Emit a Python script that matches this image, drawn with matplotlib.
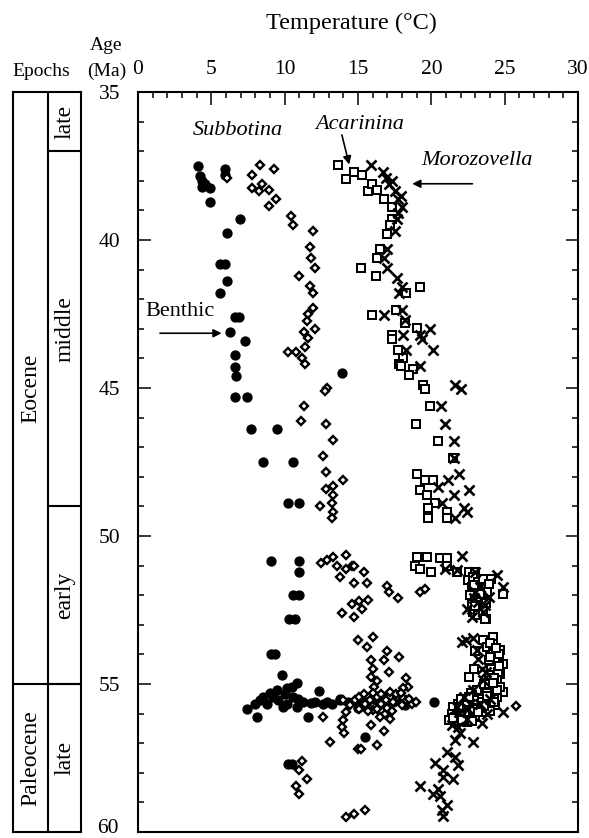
import matplotlib
matplotlib.use("Agg")
import matplotlib.pyplot as plt

plt.rcParams['font.family'] = ['Liberation Serif', 'DejaVu Serif']

# ---------------- data (temperature degC, age Ma) ----------------
benthic_T = [4.1, 4.2, 4.35, 4.6, 4.35, 4.9, 4.9, 5.9, 5.9, 6.95, 6.05, 5.6, 5.95, 6.05, 5.6,
             6.6, 6.9, 6.3, 7.3, 6.6, 6.6, 6.7, 6.6, 7.4, 7.7, 9.5, 8.5, 10.6, 10.2, 11.0, 13.9,
             9.1, 11.0, 11.0, 10.6, 11.0, 10.3, 10.7, 9.1, 9.35, 9.8, 10.82,
             7.41, 8.09, 7.98, 8.55, 9.0, 8.77, 9.45, 9.57, 10.14, 10.14, 10.59, 10.48, 10.82,
             11.27, 11.61, 12.07, 12.34, 12.64, 13.2, 13.77, 9.9, 15.0, 15.0,
             13.8, 14.3, 15.6, 16.2, 17.0, 17.8, 20.2, 15.5, 10.2, 10.5,
             8.3, 9.2, 10.0, 10.9, 11.8, 12.9, 16.6, 17.4, 18.2]
benthic_age = [37.5, 37.85, 38.0, 38.1, 38.2, 38.25, 38.7, 37.6, 37.8, 39.3, 39.75, 40.8, 40.8, 41.4, 41.8,
               42.6, 42.6, 43.1, 43.4, 43.9, 44.3, 44.6, 45.3, 45.3, 46.4, 46.4, 47.5, 47.5, 48.9, 48.9, 44.5,
               50.85, 50.85, 51.2, 52.0, 52.0, 52.8, 52.8, 54.0, 54.0, 54.7, 54.96,
               55.83, 56.11, 55.66, 55.44, 55.32, 55.66, 55.19, 55.55, 55.15, 55.66, 55.44, 55.1, 55.77,
               55.6, 56.11, 55.6, 55.23, 55.66, 55.66, 55.52, 55.77, 55.5, 55.8,
               55.55, 55.6, 55.6, 55.55, 55.6, 55.55, 55.6, 56.8, 57.7, 57.7,
               55.55, 55.45, 55.35, 55.5, 55.65, 55.6, 55.65, 55.6, 55.7]

subbotina_T = [8.3, 9.3, 7.8, 6.09, 8.45, 7.8, 8.25, 8.9, 9.4, 8.9, 10.4, 10.6, 11.9, 11.7, 11.8, 12.1,
               11.0, 11.7, 11.9, 11.9, 11.6, 11.5, 12.1, 11.3, 11.6, 11.4, 10.2, 10.8, 11.2, 11.4,
               12.9, 12.75, 11.3, 11.1, 12.8, 13.3, 12.6, 12.8, 12.8, 13.3, 13.3, 13.2, 12.4, 13.3, 13.2, 14.0,
               12.5, 12.9, 13.3, 13.6, 14.2, 14.2, 14.6, 13.8, 14.7, 13.9, 14.6, 14.7, 15.0,
               14.7, 15.4, 15.6, 17.0, 17.1, 17.7, 15.1, 15.7, 15.3, 19.2, 19.6,
               15.6, 16.0, 17.0, 16.8, 17.8, 15.9, 16.0, 17.1, 15.9, 16.3, 18.3, 16.1, 16.8, 18.4,
               14.8, 15.1, 15.5, 15.8, 16.3, 16.6, 16.95, 17.2, 17.4, 17.75, 17.98, 18.3, 18.66, 18.95,
               17.2, 18.1, 16.84, 16.5, 17.2, 16.05, 15.1, 14.45, 14.0,
               12.6, 14.0, 14.2, 13.9, 14.05, 13.1, 15.0, 15.9, 16.8, 15.2, 16.3, 25.8,
               11.2, 11.0, 11.5, 10.8, 11.0, 14.2, 14.7, 15.5,
               15.4, 16.0, 16.6, 17.0, 17.6, 18.0, 18.5, 16.3, 17.3, 17.9, 15.7, 16.9]
subbotina_age = [37.45, 37.6, 37.8, 37.92, 38.1, 38.25, 38.35, 38.3, 38.6, 38.85, 39.2, 39.5, 39.7, 40.25, 40.6, 40.95,
                 41.2, 41.55, 41.8, 42.3, 42.5, 42.75, 43.0, 43.1, 43.3, 43.6, 43.8, 43.8, 44.0, 44.2,
                 45.0, 45.1, 45.6, 46.1, 46.2, 46.75, 47.3, 47.85, 48.4, 48.3, 48.6, 48.9, 49.0, 49.2, 49.4, 48.1,
                 50.9, 50.8, 50.7, 51.0, 50.65, 51.1, 51.0, 51.4, 51.6, 52.6, 52.3, 52.75, 53.5,
                 51.0, 51.2, 51.6, 51.7, 51.9, 52.1, 52.2, 52.15, 52.45, 51.9, 51.8,
                 53.75, 53.4, 53.9, 54.2, 54.1, 54.2, 54.5, 54.6, 54.75, 54.9, 54.8, 55.1, 55.45, 55.1,
                 55.55, 55.44, 55.66, 55.55, 55.44, 55.66, 55.77, 55.44, 55.6, 55.44, 55.72, 55.55, 55.66, 55.6,
                 55.27, 55.15, 56.0, 56.11, 56.17, 55.89, 55.83, 55.72, 55.55,
                 56.1, 56.2, 55.95, 56.45, 56.65, 56.95, 57.2, 56.4, 56.6, 57.2, 57.05, 55.75,
                 57.6, 57.9, 58.2, 58.45, 58.7, 59.5, 59.4, 59.25,
                 55.35, 55.3, 55.35, 55.8, 55.35, 55.45, 55.5, 55.85, 55.9, 55.3, 55.9, 55.55]

acarinina_T = [13.66, 14.2, 14.7, 15.3, 15.7, 15.95, 16.3, 16.8, 17.3, 17.3, 17.2, 17.0, 16.5, 16.3, 15.2,
               16.2, 19.2, 18.3, 15.95, 17.6, 18.2, 19.0, 17.3, 17.3, 17.7, 18.1, 17.8, 18.75,
               17.9, 18.5, 19.4, 19.6, 19.9, 18.95, 20.45, 21.5, 19.0, 19.6, 20.1, 19.2, 19.7, 20.25,
               19.8, 19.8, 21.1, 21.1,
               19.0, 18.9, 19.7, 19.2, 20.0, 20.6, 21.1, 21.1, 21.75, 22.6, 24.1, 24.9, 23.7, 22.98,
               22.5, 22.86, 23.2, 23.55, 23.9, 22.75, 23.1, 23.4, 23.77, 22.64, 22.98, 23.32, 23.66,
               22.75, 23.1, 23.43, 22.86, 23.2, 23.66,
               24.2, 23.55, 24.68, 24.8, 24.68, 22.6, 24.9, 23.77, 24.2, 23.9, 24.45, 24.1, 24.57,
               23.9, 24.45, 24.1, 23.55, 24.68, 23.1, 23.77, 24.45, 22.75, 23.32, 22.3, 21.84, 21.5,
               21.95, 22.52, 23.1, 23.77, 24.34, 21.39, 21.84, 22.41, 22.86, 23.43, 21.6, 22.41,
               24.2, 24.9, 23.0, 22.9, 23.6, 24.3, 21.2, 22.0, 22.9,
               24.0, 24.6, 24.3, 23.9, 24.5, 23.4, 22.0, 22.7, 23.5, 24.0, 21.6, 22.2, 23.0, 23.8,
               22.9, 23.3, 23.7, 23.0, 23.5, 24.4, 24.0, 24.6, 24.2, 23.8, 24.3, 22.4, 22.9, 23.6,
               21.9, 22.6, 23.2, 21.5, 22.1, 22.8]
acarinina_age = [37.45, 37.95, 37.7, 37.8, 38.35, 38.1, 38.3, 38.6, 38.9, 39.3, 39.5, 39.8, 40.3, 40.6, 40.95,
                 41.2, 41.6, 41.8, 42.55, 42.35, 42.8, 42.97, 43.2, 43.35, 43.7, 44.0, 44.2, 44.35,
                 44.25, 44.55, 44.9, 45.05, 45.6, 46.2, 46.8, 47.35, 47.9, 48.1, 48.1, 48.45, 48.6, 48.9,
                 49.05, 49.4, 49.2, 49.4,
                 50.7, 51.0, 50.7, 51.1, 51.2, 50.75, 50.75, 51.0, 51.2, 51.2, 51.45, 51.95, 52.8, 51.22,
                 51.5, 51.39, 51.56, 51.44, 51.61, 51.73, 51.84, 51.78, 51.9, 52.0, 52.12, 52.06, 52.18,
                 52.29, 52.4, 52.46, 52.57, 52.68, 52.79,
                 53.41, 53.52, 53.86, 54.31, 54.65, 54.78, 55.27, 53.75, 53.97, 54.2, 54.26, 54.48, 54.59,
                 54.7, 54.87, 55.04, 55.1, 55.1, 55.21, 55.32, 55.44, 55.38, 55.49, 55.55, 55.66, 55.77,
                 55.89, 55.77, 55.72, 55.66, 55.72, 56.0, 56.11, 56.05, 56.0, 55.94, 56.28, 56.28,
                 53.64, 54.31, 53.9, 54.5, 55.0, 55.5, 56.2, 55.95, 55.85,
                 53.6, 54.0, 54.8, 55.0, 55.2, 55.6, 55.5, 55.3, 55.8, 55.9, 56.1, 56.2, 56.1, 55.5,
                 51.65, 51.95, 52.25, 52.35, 52.55, 53.8, 54.1, 54.4, 54.95, 55.4, 55.6, 55.6, 55.55, 55.75,
                 55.8, 55.45, 55.95, 56.15, 56.2, 56.25]

morozovella_T = [15.9, 16.7, 16.9, 17.1, 17.5, 17.75, 18.0, 17.75, 17.65, 17.5, 17.0, 16.8, 17.0, 17.65,
                 18.0, 17.8, 16.8, 18.0, 18.2, 19.2, 19.9, 19.35, 20.1, 18.1, 18.3, 19.2,
                 21.6, 22.0, 20.65, 20.9, 21.55, 21.55, 21.9, 21.15, 20.45, 22.6, 21.55, 20.7, 22.2, 22.4, 21.6,
                 22.07, 20.93, 21.73, 22.98,
                 22.4, 23.66, 24.9, 23.3, 22.98, 23.55, 22.75, 23.2, 23.9, 24.45,
                 22.07, 22.86, 23.1, 23.2, 22.36, 23.43, 23.55, 22.86, 22.2, 21.73, 22.64, 23.3, 24.0,
                 24.9, 23.43, 22.86, 21.95, 21.39, 21.84, 21.61, 21.05, 20.25, 21.61, 21.84, 20.82,
                 20.82, 21.5, 19.23, 20.14, 20.48, 20.59, 21.05, 20.7, 20.82, 23.77, 22.41,
                 17.3, 17.9, 22.9, 23.7, 21.9, 22.5]
morozovella_age = [37.45, 37.7, 37.9, 38.1, 38.35, 38.6, 38.9, 39.1, 39.3, 39.7, 40.3, 40.6, 40.95, 41.3,
                   41.6, 41.8, 42.55, 42.35, 42.7, 43.2, 43.0, 43.35, 43.7, 43.2, 43.7, 44.25,
                   44.9, 45.05, 45.6, 46.2, 46.8, 47.35, 47.9, 48.1, 48.35, 48.45, 48.6, 48.9, 49.05, 49.2, 49.4,
                   50.69, 51.11, 51.16, 51.22,
                   52.46, 52.34, 51.73, 51.73, 51.9, 52.57, 52.74, 52.23, 52.06, 51.33,
                   53.58, 53.43, 53.86, 54.14, 53.52, 54.48, 54.87, 55.21, 55.44, 55.77, 55.66, 55.66, 55.49,
                   55.94, 56.33, 56.95, 56.67, 56.39, 56.45, 56.9, 57.29, 57.68, 57.46, 57.74, 57.91,
                   58.13, 58.22, 58.45, 58.72, 58.56, 58.79, 59.09, 59.26, 59.46, 56.0, 56.17,
                   38.0, 38.5, 52.1, 54.6, 55.95, 55.85]

x_ticks = [0, 5, 10, 15, 20, 25, 30]
y_ticks = [35, 40, 45, 50, 55, 60]

epochs = [("Eocene", 35, 55), ("Paleocene", 55, 60)]
sub_epochs = [("late", 35, 37), ("middle", 37, 49), ("early", 49, 55), ("late", 55, 60)]

# ---------------- figure ----------------
W, H = 589, 838
fig = plt.figure(figsize=(W / 100, H / 100), dpi=100)
ax = fig.add_axes([138 / W, (H - 832) / H, (578 - 138) / W, (832 - 92) / H])

ax.plot(benthic_T, benthic_age, 'o', color='k', ms=6.4, mec='k', ls='none', clip_on=False)
ax.plot(subbotina_T, subbotina_age, 'D', mfc='white', mec='k', ms=3.9, mew=1.7, ls='none', clip_on=False)
ax.plot(acarinina_T, acarinina_age, 's', mfc='white', mec='k', ms=5.9, mew=1.45, ls='none', clip_on=False)
ax.plot(morozovella_T, morozovella_age, 'x', color='k', ms=6.5, mew=1.9, ls='none', clip_on=False)

ax.set_xlim(0, 30)
ax.set_ylim(60, 35)
ax.set_xticks(x_ticks)
ax.set_xticks(range(0, 31), minor=True)
ax.set_yticks(y_ticks)
ax.set_yticklabels([str(v) if v != 60 else '' for v in y_ticks])
ax.set_yticks(range(35, 61), minor=True)
ax.xaxis.set_ticks_position('top')
ax.tick_params(which='both', direction='in', top=True, bottom=False, left=True, right=True,
               labeltop=True, labelbottom=False, width=1.1, labelsize=15.5)
ax.tick_params(axis='x', which='major', length=9, pad=9)
ax.tick_params(axis='y', which='major', length=9, pad=13)
ax.tick_params(which='minor', length=4.5)
for s in ax.spines.values():
    s.set_linewidth(1.5)
# bottom tick label drawn separately so that it stays inside the figure
fig.text(119 / W, 0.0, str(y_ticks[-1]), ha='right', va='bottom', fontsize=15.5)

# labels
fig.text(351 / W, 1 - 23 / H, "Temperature (°C)", ha='center', va='center', fontsize=17.5)
fig.text(106 / W, 1 - 45 / H, "Age", ha='center', va='center', fontsize=14)
fig.text(107 / W, 1 - 71 / H, "(Ma)", ha='center', va='center', fontsize=14)
fig.text(41 / W, 1 - 72 / H, "Epochs", ha='center', va='center', fontsize=14)

# annotations
ax.text(6.8, 36.3, "Subbotina", style='italic', fontsize=16, ha='center', va='center')
ax.text(15.1, 36.1, "Acarinina", style='italic', fontsize=16, ha='center', va='center')
ax.text(23.1, 37.3, "Morozovella", style='italic', fontsize=16, ha='center', va='center')
ax.text(2.85, 42.4, "Benthic", fontsize=16, ha='center', va='center', clip_on=False)
arrow = dict(arrowstyle='-|>', lw=1.2, color='k', mutation_scale=12, shrinkA=0, shrinkB=0)
ax.annotate('', xy=(14.4, 37.45), xytext=(13.9, 36.45), arrowprops=arrow)
ax.annotate('', xy=(18.7, 38.1), xytext=(22.8, 38.1), arrowprops=arrow)
ax.annotate('', xy=(5.7, 43.15), xytext=(1.5, 43.15), arrowprops=arrow, annotation_clip=False)

# epoch column
ex = fig.add_axes([13 / W, (H - 832) / H, (81 - 13) / W, (832 - 92) / H])
ex.set_xlim(0, 1)
ex.set_ylim(60, 35)
ex.set_xticks([])
ex.set_yticks([])
for s in ex.spines.values():
    s.set_linewidth(1.5)
split = 0.515
ex.axvline(split, color='k', lw=1.5)
for name, a0, a1 in epochs:
    if a0 > 35:
        ex.plot([0, 1], [a0, a0], color='k', lw=1.5)
    ex.text(split / 2, (a0 + a1) / 2, name, rotation=90, ha='center', va='center', fontsize=17)
for name, a0, a1 in sub_epochs:
    if a0 > 35:
        ex.plot([split, 1], [a0, a0], color='k', lw=1.5)
    ex.text((split + 1) / 2, (a0 + a1) / 2, name, rotation=90, ha='center', va='center', fontsize=17)

fig.savefig("out.png", dpi=100)
